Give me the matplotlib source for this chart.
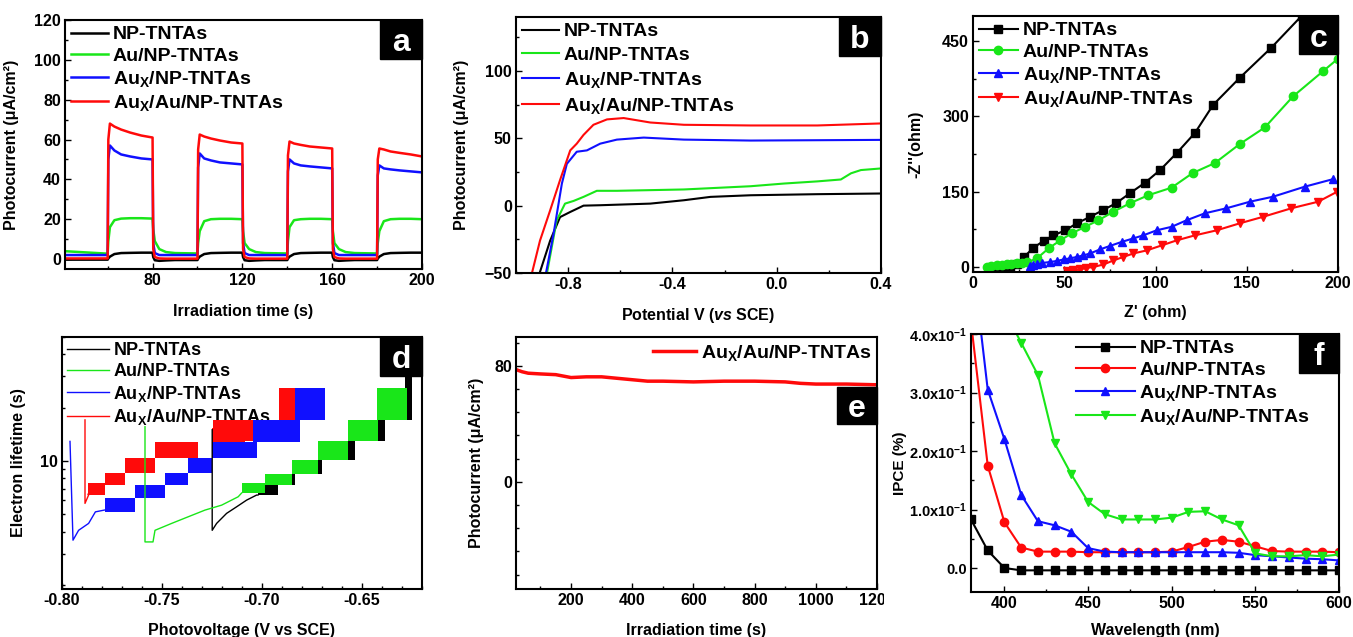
import matplotlib
matplotlib.use('Agg')
import matplotlib.pyplot as plt
from matplotlib.patches import Rectangle
from matplotlib.ticker import MultipleLocator, NullFormatter, FuncFormatter, LogLocator
from matplotlib.transforms import Bbox, TransformedBbox

plt.rcParams['font.family'] = ['Liberation Sans', 'DejaVu Sans']
plt.rcParams['font.weight'] = 'bold'
plt.rcParams['axes.labelweight'] = 'bold'
plt.rcParams['mathtext.fontset'] = 'custom'
plt.rcParams['mathtext.rm'] = 'Liberation Sans:bold'
plt.rcParams['mathtext.bf'] = 'Liberation Sans:bold'
plt.rcParams['mathtext.it'] = 'Liberation Sans:italic:bold'
plt.rcParams['mathtext.default'] = 'rm'

names = ['NP-TNTAs', 'Au/NP-TNTAs', 'Au$_{X}$/NP-TNTAs', 'Au$_{X}$/Au/NP-TNTAs']
colors = ['black', '#19e619', '#1010ff', '#ff0a0a']

# (a) transient photocurrent
t_a = [40, 60, 60.3, 61, 63, 66, 70, 75, 80, 80.3, 81, 83, 86, 90,
       100, 100.3, 101, 103, 106, 110, 115, 120, 120.3, 121, 123, 126, 130,
       140, 140.3, 141, 143, 146, 150, 155, 160, 160.3, 161, 163, 166, 170,
       180, 180.3, 181, 183, 186, 190, 195, 200]
np_a = [-0.3, -0.3, 0.3, 1.2, 2.5, 3.0, 3.1, 3.2, 3.2, 1.0, -0.6, -0.9, -0.7, -0.5,
        -0.5, 0.2, 1.2, 2.5, 3.0, 3.1, 3.2, 3.2, 1.0, -0.6, -0.9, -0.7, -0.5,
        -0.5, 0.2, 1.2, 2.5, 3.0, 3.1, 3.2, 3.2, 1.0, -0.6, -0.9, -0.7, -0.5,
        -0.5, 0.2, 1.2, 2.5, 3.0, 3.1, 3.2, 3.2]
au_a = [4.0, 2.7, 9, 16, 19.5, 20.3, 20.5, 20.5, 20.3, 15, 9, 5, 3.5, 3.0,
        2.8, 8, 14, 19, 20, 20.2, 20.2, 20.0, 14, 8, 5, 3.5, 3.0,
        2.8, 9, 16, 19.5, 20, 20.2, 20.2, 20.0, 14, 8, 5, 3.5, 3.0,
        2.8, 8, 14, 19, 20, 20.2, 20.2, 20.0]
aux_a = [2.0, 2.0, 50, 57, 54.5, 52.5, 51.5, 50.5, 50.0, 8, 3, 2.0, 2.0, 2.0,
         2.0, 46, 53, 50.5, 49.5, 48.5, 48.0, 47.5, 8, 3, 2.0, 2.0, 2.0,
         2.0, 44, 50, 48, 47, 46.5, 46.0, 45.5, 8, 3, 2.0, 2.0, 2.0,
         2.0, 42, 47, 45.5, 45.0, 44.5, 44.0, 43.5]
auxau_a = [0.3, 0.3, 60, 68, 66.5, 65, 63.5, 62, 61, 5, 1, 0.3, 0.2, 0.2,
           0.2, 55, 62.5, 61.5, 60.5, 59.5, 58.5, 58, 5, 1, 0.3, 0.2, 0.2,
           0.2, 52, 59, 58, 57.3, 56.5, 56, 55.5, 5, 1, 0.3, 0.2, 0.2,
           0.2, 50, 55.5, 55, 54, 53.3, 52.5, 51.5]

# (b) linear sweep voltammetry
v_np_b = [-0.911, -0.869, -0.831, -0.792, -0.741, -0.677, -0.485, -0.356, -0.254, -0.1, 0.156, 0.4]
i_np_b = [-51, -26, -8.5, -4.7, 0, 0.3, 1.5, 4, 6.5, 7.7, 8.5, 9]
v_au_b = [-0.882, -0.844, -0.812, -0.779, -0.741, -0.690, -0.613, -0.356, -0.1, 0.028, 0.156, 0.246, 0.285, 0.323, 0.4]
i_au_b = [-51, -11, 1.5, 3.5, 6.5, 11, 11, 12, 14.4, 16.4, 18, 19.4, 24, 26.4, 27.6]
v_aux_b = [-0.886, -0.856, -0.824, -0.805, -0.767, -0.728, -0.677, -0.613, -0.510, -0.356, -0.1, 0.4]
i_aux_b = [-51, -21, 16.4, 31, 40, 41, 46, 49, 50.5, 49, 48.3, 48.8]
v_auxau_b = [-0.940, -0.908, -0.869, -0.831, -0.792, -0.767, -0.741, -0.703, -0.651, -0.587, -0.485, -0.356, -0.1, 0.156, 0.4]
i_auxau_b = [-51, -26, -3.5, 19, 41, 46, 52.5, 60, 64, 65, 61.7, 60, 59.5, 59.5, 61]

# (c) Nyquist plots
zr_np = [12, 16, 20, 24, 28, 33, 38.7, 44.1, 50.5, 56.9, 64.2, 71.1, 78.4, 86, 94.3, 102.5, 111.9, 121.6, 131.6, 146.2, 163.5, 180]
zi_np = [-8, -6, -3, 5, 20, 38, 52, 63, 73, 87, 100, 113, 127, 147, 168, 193, 228, 267, 323, 377, 437, 500]
zr_au = [7.7, 10, 13.1, 16, 18.6, 21, 24.1, 27, 29.5, 35, 41.4, 47.8, 54.1, 61.4, 68.7, 76.9, 86, 96.1, 108.8, 120.3, 132.5, 146.2, 159.9, 175.4, 191.8, 200]
zi_au = [0, 2, 3, 4, 5, 6, 7, 8, 9, 17, 37, 53, 67, 80, 93, 110, 127, 143, 158, 187, 207, 245, 278, 340, 390, 415]
zr_aux = [31.4, 33, 35, 38, 42.3, 46, 49.6, 53, 56.9, 60.5, 64.2, 69.6, 75.1, 81.5, 87.9, 93.3, 100.6, 108.8, 117, 127.1, 138.9, 151.7, 164.4, 181.8, 197.3]
zi_aux = [1, 3, 5, 8, 10, 12, 15, 17, 20, 23, 27, 35, 42, 50, 57, 63, 73, 80, 93, 107, 117, 130, 140, 160, 175]
zr_auxau = [51.4, 55, 58.7, 62, 66, 71.5, 76.9, 82.4, 87.9, 95.2, 103.4, 111.6, 121.6, 133.5, 146.2, 159, 174.5, 189.1, 199.6]
zi_auxau = [-8, -7, -5, -2, 0, 5, 13, 20, 27, 33, 43, 53, 63, 73, 87, 100, 117, 130, 150]

# (d) electron lifetime: traces + dense noisy bands (x0, x1, low, high)
v_np_d = [-0.7249, -0.7249, -0.7227, -0.7177, -0.7127, -0.7077, -0.7027, -0.702]
t_np_d = [15.0, 4.07, 4.45, 5.07, 5.52, 6.02, 6.43, 6.43]
bands_np_d = [(-0.702, -0.692, 6.4, 7.5), (-0.6893, -0.6835, 7.3, 8.5), (-0.6752, -0.6702, 8.5, 10.1),
              (-0.661, -0.6535, 10.1, 12.9), (-0.646, -0.6385, 12.9, 17.0), (-0.6285, -0.6252, 17.0, 30.0)]
v_au_d = [-0.7585, -0.7585, -0.7575, -0.7545, -0.7535, -0.7452, -0.7369, -0.7285, -0.7202, -0.7119, -0.7102]
t_au_d = [15.6, 3.5, 3.5, 3.5, 4.07, 4.45, 4.85, 5.29, 5.64, 6.29, 6.6]
bands_au_d = [(-0.7102, -0.6985, 6.6, 7.5), (-0.6985, -0.6852, 7.3, 8.5), (-0.6852, -0.6718, 8.5, 10.1),
              (-0.6718, -0.6568, 10.1, 12.9), (-0.6568, -0.6418, 12.9, 17.0), (-0.6427, -0.6277, 17.0, 25.7)]
v_aux_d = [-0.796, -0.7945, -0.7917, -0.7867, -0.7833, -0.7785]
t_aux_d = [12.9, 3.58, 4.07, 4.45, 5.17, 5.3]
bands_aux_d = [(-0.7785, -0.7635, 5.15, 6.2), (-0.7635, -0.7485, 6.2, 7.3), (-0.7485, -0.737, 7.3, 8.6),
               (-0.737, -0.725, 8.6, 10.4), (-0.725, -0.7025, 10.4, 12.8), (-0.7045, -0.681, 12.8, 17.0),
               (-0.6835, -0.6685, 17.0, 25.7)]
v_auxau_d = [-0.7885, -0.7885, -0.786, -0.787]
t_auxau_d = [17.05, 5.77, 6.71, 6.5]
bands_auxau_d = [(-0.787, -0.7785, 6.4, 7.5), (-0.7785, -0.7685, 7.3, 8.6), (-0.7685, -0.7535, 8.6, 10.4),
                 (-0.7535, -0.732, 10.4, 12.8), (-0.725, -0.7085, 12.8, 15.4), (-0.7243, -0.7045, 12.9, 17.0),
                 (-0.6913, -0.6835, 17.0, 25.7)]

# (e) stability
t_e = [20, 40, 60, 100, 150, 200, 250, 300, 350, 400, 450, 500, 600, 700, 800, 900, 950, 1000, 1100, 1200]
i_e = [77.5, 76, 75, 74.5, 74, 72, 72.5, 72.5, 71.5, 70.5, 69.5, 69.5, 69, 69.5, 69.5, 69, 68, 67.5, 67.5, 67]

# (f) IPCE
wl_f = [380, 390, 400, 410, 420, 430, 440, 450, 460, 470, 480, 490, 500, 510, 520, 530, 540, 550, 560, 570, 580, 590, 600]
ipce_np = [0.083, 0.030, 0.0, -0.004, -0.004, -0.004, -0.004, -0.004, -0.004, -0.004, -0.004, -0.004, -0.004,
           -0.004, -0.004, -0.004, -0.004, -0.004, -0.004, -0.004, -0.004, -0.004, -0.004]
ipce_au = [0.42, 0.175, 0.078, 0.035, 0.028, 0.028, 0.028, 0.027, 0.027, 0.027, 0.027, 0.027, 0.028,
           0.036, 0.045, 0.048, 0.045, 0.037, 0.029, 0.028, 0.028, 0.028, 0.027]
ipce_aux = [0.55, 0.305, 0.22, 0.125, 0.08, 0.073, 0.062, 0.034, 0.028, 0.027, 0.027, 0.027, 0.027,
            0.027, 0.027, 0.027, 0.026, 0.022, 0.020, 0.018, 0.016, 0.015, 0.013]
wl_auxau = [400, 410, 420, 430, 440, 450, 460, 470, 480, 490, 500, 510, 520, 530, 540, 550, 560, 570, 580, 590, 600]
ipce_auxau = [0.44, 0.385, 0.33, 0.213, 0.16, 0.113, 0.092, 0.083, 0.083, 0.083, 0.086, 0.096, 0.097,
              0.083, 0.073, 0.025, 0.020, 0.020, 0.022, 0.020, 0.023]
f_ticks = [0.0, 0.1, 0.2, 0.3, 0.4]
f_ticklabels = ['0.0', '1.0x10$^{-1}$', '2.0x10$^{-1}$', '3.0x10$^{-1}$', '4.0x10$^{-1}$']

W, H = 1353, 637
fig = plt.figure(figsize=(W / 100, H / 100), dpi=100)


def place(l, t, r, b):
    ax = fig.add_axes([l / W, 1 - b / H, (r - l) / W, (b - t) / H])
    for s in ax.spines.values():
        s.set_linewidth(1.5)
    ax.tick_params(direction='in', which='both', labelsize=11.5, pad=3, width=1)
    ax.tick_params(which='major', length=4)
    ax.tick_params(which='minor', length=2.5)
    return ax


def tag(ax, letter, x0, y0, w, h):
    ax.add_patch(Rectangle((x0, y0), w, h, transform=ax.transAxes, color='black',
                           zorder=6, clip_on=False))
    ax.text(x0 + w / 2, y0 + h / 2, letter, transform=ax.transAxes, color='white',
            fontsize=23, fontweight='bold', ha='center', va='center_baseline', zorder=7)


def legend(ax, **kw):
    opts = dict(loc='upper left', frameon=False, fontsize=14, handlelength=1.9,
                handletextpad=0.25, labelspacing=0.2, borderaxespad=0.15, borderpad=0.15)
    opts.update(kw)
    return ax.legend(**opts)


# ---- a
ax = place(65, 20, 422, 269)
for y, c, n in zip([np_a, au_a, aux_a, auxau_a], colors, names):
    ax.plot(t_a, y, color=c, lw=1.8, label=n)
ax.set_xlim(41, 200)
ax.set_ylim(-5, 120)
ax.xaxis.set_major_locator(MultipleLocator(40))
ax.xaxis.set_minor_locator(MultipleLocator(20))
ax.yaxis.set_major_locator(MultipleLocator(20))
ax.yaxis.set_minor_locator(MultipleLocator(10))
ax.set_xlabel('Irradiation time (s)', fontsize=11.5)
ax.set_ylabel('Photocurrent (μA/cm²)', fontsize=11.5)
ax.yaxis.set_label_coords(-0.128, 0.5)
ax.xaxis.set_label_coords(0.5, -0.14)
legend(ax)
tag(ax, 'a', 0.882, 0.843, 0.118, 0.157)

# ---- b
ax = place(516, 17, 881, 273)
for x, y, c, n in zip([v_np_b, v_au_b, v_aux_b, v_auxau_b], [i_np_b, i_au_b, i_aux_b, i_auxau_b], colors, names):
    ax.plot(x, y, color=c, lw=1.5, label=n)
ax.set_xlim(-1.0, 0.4)
ax.set_ylim(-50, 140)
ax.xaxis.set_major_locator(MultipleLocator(0.4))
ax.xaxis.set_minor_locator(MultipleLocator(0.2))
ax.yaxis.set_major_locator(MultipleLocator(50))
ax.yaxis.set_minor_locator(MultipleLocator(25))
ax.xaxis.set_major_formatter(FuncFormatter(lambda v, p: f'{v:.1f}'))
ax.set_xlabel('Potential V ($\\it{vs}$ SCE)', fontsize=11.5)
ax.set_ylabel('Photocurrent (μA/cm²)', fontsize=11.5)
ax.yaxis.set_label_coords(-0.128, 0.5)
ax.xaxis.set_label_coords(0.5, -0.13)
legend(ax, labelspacing=0.3)
tag(ax, 'b', 0.885, 0.848, 0.115, 0.152)

# ---- c
ax = place(973, 16, 1338, 272)
for x, y, c, n, m in zip([zr_np, zr_au, zr_aux, zr_auxau], [zi_np, zi_au, zi_aux, zi_auxau], colors, names,
                         ['s', 'o', '^', 'v']):
    ax.plot(x, y, color=c, lw=1.5, marker=m, ms=6, label=n)
ax.set_xlim(0, 200)
ax.set_ylim(-10, 500)
ax.xaxis.set_major_locator(MultipleLocator(50))
ax.xaxis.set_minor_locator(MultipleLocator(25))
ax.yaxis.set_major_locator(MultipleLocator(150))
ax.yaxis.set_minor_locator(MultipleLocator(75))
ax.set_xlabel("Z' (ohm)", fontsize=11.5)
ax.set_ylabel("-Z''(ohm)", fontsize=11.5)
ax.yaxis.set_label_coords(-0.135, 0.5)
ax.xaxis.set_label_coords(0.5, -0.13)
legend(ax, handlelength=2.0)
tag(ax, 'c', 0.893, 0.85, 0.107, 0.15)

# ---- d
ax = place(62, 337, 422, 589)
ax.set_yscale('log')
for bands, c in zip([bands_aux_d, bands_auxau_d, bands_np_d, bands_au_d], [colors[2], colors[3], colors[0], colors[1]]):
    for x0, x1, lo, hi in bands:
        ax.bar(x0, hi - lo, width=x1 - x0, bottom=lo, align='edge', color=c, lw=0, zorder=2)
for x, y, c, n in zip([v_np_d, v_au_d, v_aux_d, v_auxau_d], [t_np_d, t_au_d, t_aux_d, t_auxau_d], colors, names):
    ax.plot(x, y, color=c, lw=1.0, label=n, zorder=3)
ax.set_xlim(-0.80, -0.62)
ax.set_ylim(1.9, 50)
ax.xaxis.set_major_locator(MultipleLocator(0.05))
ax.xaxis.set_minor_locator(MultipleLocator(0.01))
ax.xaxis.set_major_formatter(FuncFormatter(lambda v, p: f'{v:.2f}'))
ax.yaxis.set_major_locator(LogLocator(base=10))
ax.yaxis.set_minor_locator(LogLocator(base=10, subs=range(2, 10)))
ax.yaxis.set_major_formatter(FuncFormatter(lambda v, p: f'{v:g}'))
ax.yaxis.set_minor_formatter(NullFormatter())
ax.set_xlabel('Photovoltage (V vs SCE)', fontsize=11.5)
ax.set_ylabel('Electron lifetime (s)', fontsize=11.5)
ax.yaxis.set_label_coords(-0.1, 0.5)
ax.xaxis.set_label_coords(0.5, -0.135)
leg = legend(ax, handlelength=2.3, fontsize=13)
leg.set_zorder(1)
tag(ax, 'd', 0.883, 0.845, 0.117, 0.155)

# ---- e
ax = place(516, 337, 877, 589)
ax.plot(t_e, i_e, color=colors[3], lw=2.5, label=names[3])
ax.set_xlim(20, 1200)
ax.set_ylim(-74, 100)
ax.xaxis.set_major_locator(MultipleLocator(200))
ax.xaxis.set_minor_locator(MultipleLocator(100))
ax.yaxis.set_major_locator(MultipleLocator(80))
ax.yaxis.set_minor_locator(MultipleLocator(16))
ax.set_xlabel('Irradiation time (s)', fontsize=11.5)
ax.set_ylabel('Photocurrent (μA/cm²)', fontsize=11.5)
ax.yaxis.set_label_coords(-0.09, 0.5)
ax.xaxis.set_label_coords(0.5, -0.135)
legend(ax, loc='upper right', handlelength=2.2)
tag(ax, 'e', 0.889, 0.655, 0.111, 0.147)
fig.canvas.draw()
clip = TransformedBbox(Bbox([[0, 0], [884 / W, 1]]), fig.transFigure)
for lab in ax.get_xticklabels():
    lab.set_clip_on(True)
    lab.set_clip_box(clip)

# ---- f
ax = place(971, 334, 1339, 592)
ax.plot(wl_f, ipce_np, color=colors[0], lw=1.5, marker='s', ms=6, label=names[0])
ax.plot(wl_f, ipce_au, color=colors[3], lw=1.5, marker='o', ms=6, label=names[1])
ax.plot(wl_f, ipce_aux, color=colors[2], lw=1.5, marker='^', ms=6, label=names[2])
ax.plot(wl_auxau, ipce_auxau, color=colors[1], lw=1.5, marker='v', ms=6, label=names[3])
ax.set_xlim(380, 600)
ax.set_ylim(-0.041, 0.4)
ax.xaxis.set_major_locator(MultipleLocator(50))
ax.xaxis.set_minor_locator(MultipleLocator(25))
ax.set_yticks(f_ticks)
ax.set_yticklabels(f_ticklabels, fontsize=10.5)
ax.yaxis.set_minor_locator(MultipleLocator(0.05))
ax.set_xlabel('Wavelength (nm)', fontsize=11.5)
ax.set_ylabel('IPCE (%)', fontsize=11)
ax.yaxis.set_label_coords(-0.175, 0.5)
ax.xaxis.set_label_coords(0.5, -0.12)
legend(ax, loc='upper left', bbox_to_anchor=(0.27, 1.0), handlelength=3.0)
tag(ax, 'f', 0.891, 0.849, 0.109, 0.151)

fig.savefig('out.png', dpi=100)
